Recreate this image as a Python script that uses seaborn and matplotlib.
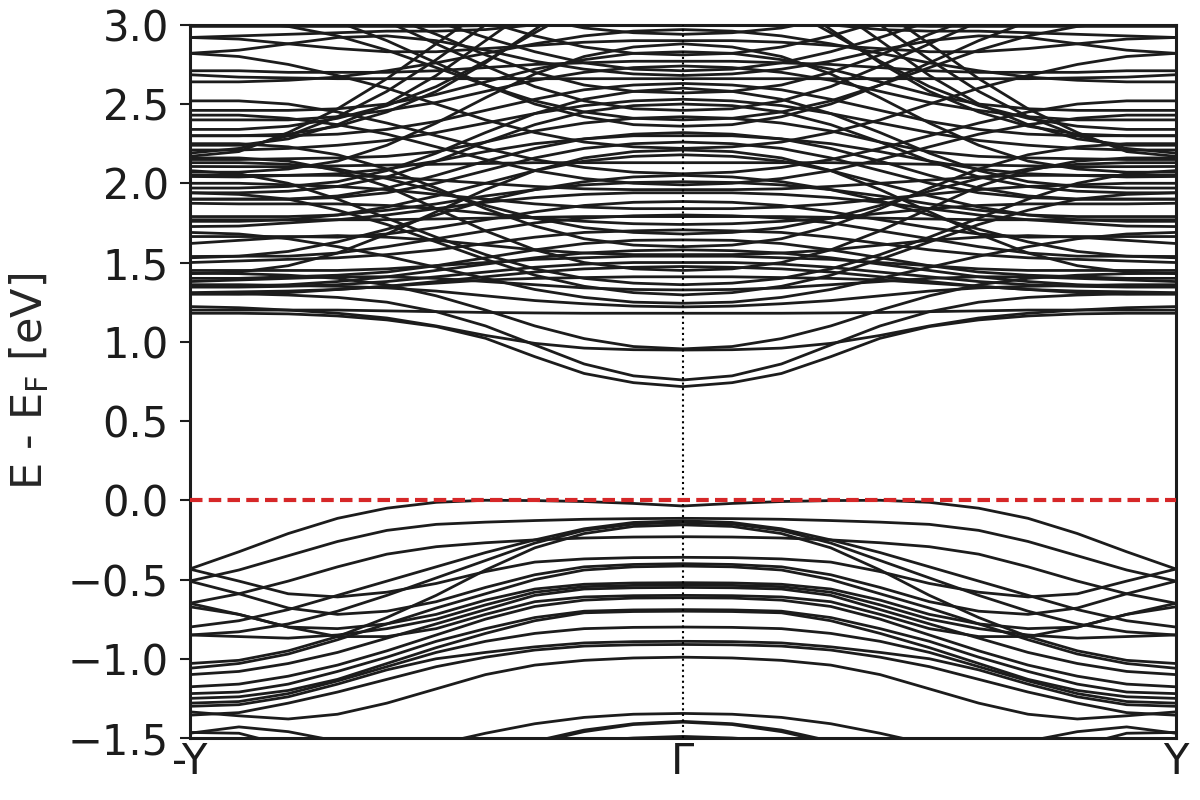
import numpy as np
import pandas as pd
import matplotlib
matplotlib.use("Agg")
import matplotlib.pyplot as plt
import seaborn as sns

# k positions (Gamma -> Y, fraction of path); bands are mirrored to -Y
k_half = [0.0, 0.1, 0.2, 0.3, 0.4, 0.5, 0.6, 0.7, 0.8, 0.9, 1.0]
tick_pos = [-1.0, 0.0, 1.0]
tick_labels = ["-Y", "Γ", "Y"]
y_ticks = [-1.5, -1.0, -0.5, 0.0, 0.5, 1.0, 1.5, 2.0, 2.5, 3.0]

# valence bands (eV), Gamma -> Y
valence = [
    [-0.036, -0.02, -0.008, -0.002, 0.0, -0.013, -0.05, -0.114, -0.21, -0.325, -0.434],
    [-0.114, -0.116, -0.12, -0.128, -0.138, -0.152, -0.19, -0.26, -0.35, -0.44, -0.51],
    [-0.13, -0.14, -0.18, -0.25, -0.33, -0.42, -0.51, -0.60, -0.69, -0.76, -0.80],
    [-0.14, -0.15, -0.19, -0.27, -0.38, -0.49, -0.60, -0.70, -0.78, -0.83, -0.85],
    [-0.155, -0.165, -0.21, -0.30, -0.44, -0.60, -0.74, -0.86, -0.95, -1.01, -1.03],
    [-0.23, -0.232, -0.238, -0.25, -0.268, -0.293, -0.34, -0.42, -0.51, -0.59, -0.65],
    [-0.36, -0.362, -0.37, -0.39, -0.45, -0.525, -0.58, -0.61, -0.59, -0.51, -0.434],
    [-0.40, -0.405, -0.42, -0.47, -0.55, -0.64, -0.70, -0.72, -0.68, -0.59, -0.51],
    [-0.415, -0.42, -0.44, -0.50, -0.59, -0.68, -0.78, -0.88, -0.97, -1.03, -1.06],
    [-0.52, -0.522, -0.53, -0.56, -0.63, -0.72, -0.78, -0.81, -0.80, -0.72, -0.65],
    [-0.535, -0.537, -0.545, -0.58, -0.66, -0.75, -0.81, -0.85, -0.87, -0.86, -0.85],
    [-0.55, -0.552, -0.56, -0.60, -0.69, -0.78, -0.87, -0.96, -1.03, -1.08, -1.10],
    [-0.60, -0.602, -0.61, -0.64, -0.72, -0.81, -0.86, -0.86, -0.80, -0.72, -0.672],
    [-0.615, -0.617, -0.63, -0.67, -0.75, -0.85, -0.95, -1.04, -1.11, -1.16, -1.177],
    [-0.69, -0.692, -0.70, -0.74, -0.81, -0.89, -0.99, -1.08, -1.16, -1.21, -1.22],
    [-0.70, -0.702, -0.71, -0.76, -0.84, -0.93, -1.03, -1.13, -1.20, -1.24, -1.25],
    [-0.80, -0.802, -0.81, -0.84, -0.89, -0.96, -1.05, -1.14, -1.22, -1.27, -1.28],
    [-0.89, -0.892, -0.90, -0.925, -0.96, -1.0, -1.07, -1.16, -1.24, -1.29, -1.30],
    [-0.91, -0.912, -0.92, -0.945, -0.99, -1.05, -1.13, -1.21, -1.28, -1.34, -1.356],
    [-0.99, -0.995, -1.01, -1.04, -1.10, -1.19, -1.28, -1.35, -1.38, -1.36, -1.335],
    [-1.345, -1.35, -1.37, -1.41, -1.47, -1.54, -1.62, -1.70, -1.76, -1.80, -1.82],
    [-1.395, -1.41, -1.45, -1.52, -1.60, -1.68, -1.75, -1.80, -1.84, -1.86, -1.87],
    [-1.40, -1.415, -1.46, -1.53, -1.61, -1.69, -1.76, -1.82, -1.86, -1.88, -1.89],
    [-1.49, -1.50, -1.52, -1.56, -1.62, -1.68, -1.72, -1.74, -1.75, -1.75, -1.75],
    [-2.0, -1.95, -1.90, -1.82, -1.72, -1.64, -1.57, -1.52, -1.46, -1.43, -1.47],
    [-2.1, -2.05, -1.98, -1.90, -1.82, -1.74, -1.67, -1.60, -1.55, -1.47, -1.465],
]

# conduction bands (eV), Gamma -> Y
conduction = [
    [0.717, 0.742, 0.80, 0.906, 1.022, 1.096, 1.138, 1.163, 1.176, 1.18, 1.18],
    [0.759, 0.785, 0.86, 0.98, 1.10, 1.19, 1.25, 1.28, 1.295, 1.303, 1.306],
    [0.948, 0.95, 0.96, 0.99, 1.04, 1.10, 1.15, 1.18, 1.20, 1.215, 1.222],
    [0.955, 0.97, 1.02, 1.10, 1.20, 1.29, 1.36, 1.40, 1.42, 1.43, 1.432],
    [1.18, 1.18, 1.18, 1.182, 1.185, 1.19, 1.195, 1.20, 1.20, 1.20, 1.20],
    [1.22, 1.225, 1.24, 1.26, 1.29, 1.32, 1.34, 1.35, 1.355, 1.36, 1.36],
    [1.243, 1.25, 1.28, 1.33, 1.40, 1.47, 1.54, 1.60, 1.65, 1.68, 1.69],
    [1.296, 1.31, 1.35, 1.42, 1.52, 1.63, 1.74, 1.83, 1.90, 1.93, 1.94],
    [1.327, 1.33, 1.34, 1.36, 1.38, 1.40, 1.41, 1.41, 1.40, 1.39, 1.38],
    [1.36, 1.37, 1.40, 1.46, 1.55, 1.66, 1.78, 1.90, 2.00, 2.06, 2.08],
    [1.41, 1.41, 1.405, 1.40, 1.39, 1.37, 1.35, 1.33, 1.31, 1.30, 1.30],
    [1.45, 1.46, 1.50, 1.58, 1.70, 1.84, 1.98, 2.08, 2.14, 2.16, 2.16],
    [1.475, 1.47, 1.46, 1.44, 1.41, 1.38, 1.35, 1.33, 1.32, 1.315, 1.31],
    [1.50, 1.50, 1.49, 1.47, 1.44, 1.41, 1.38, 1.36, 1.35, 1.345, 1.345],
    [1.54, 1.54, 1.53, 1.52, 1.50, 1.48, 1.46, 1.45, 1.45, 1.45, 1.45],
    [1.55, 1.55, 1.56, 1.58, 1.61, 1.64, 1.66, 1.67, 1.66, 1.64, 1.62],
    [1.58, 1.575, 1.56, 1.53, 1.49, 1.45, 1.41, 1.38, 1.36, 1.35, 1.35],
    [1.60, 1.61, 1.65, 1.73, 1.84, 1.97, 2.09, 2.18, 2.23, 2.25, 2.25],
    [1.643, 1.64, 1.62, 1.58, 1.53, 1.48, 1.44, 1.42, 1.41, 1.40, 1.40],
    [1.68, 1.69, 1.72, 1.78, 1.86, 1.95, 2.03, 2.09, 2.12, 2.13, 2.13],
    [1.706, 1.70, 1.69, 1.66, 1.62, 1.58, 1.55, 1.53, 1.52, 1.51, 1.50],
    [1.74, 1.745, 1.76, 1.78, 1.81, 1.84, 1.86, 1.87, 1.87, 1.87, 1.874],
    [1.79, 1.79, 1.79, 1.785, 1.78, 1.775, 1.77, 1.77, 1.77, 1.77, 1.77],
    [1.80, 1.795, 1.78, 1.75, 1.70, 1.65, 1.60, 1.56, 1.54, 1.54, 1.538],
    [1.84, 1.84, 1.85, 1.87, 1.90, 1.93, 1.96, 1.98, 1.99, 2.0, 2.0],
    [1.885, 1.88, 1.86, 1.82, 1.77, 1.72, 1.68, 1.66, 1.664, 1.664, 1.664],
    [1.94, 1.94, 1.93, 1.91, 1.88, 1.84, 1.80, 1.77, 1.75, 1.73, 1.727],
    [1.96, 1.96, 1.965, 1.98, 2.0, 2.02, 2.04, 2.05, 2.05, 2.04, 2.043],
    [1.99, 2.0, 2.03, 2.08, 2.15, 2.23, 2.31, 2.37, 2.41, 2.43, 2.43],
    [2.01, 2.005, 1.99, 1.96, 1.92, 1.87, 1.83, 1.80, 1.79, 1.79, 1.79],
    [2.05, 2.04, 2.01, 1.96, 1.89, 1.80, 1.71, 1.63, 1.57, 1.54, 1.53],
    [2.06, 2.07, 2.10, 2.15, 2.22, 2.30, 2.38, 2.45, 2.50, 2.52, 2.52],
    [2.13, 2.13, 2.13, 2.13, 2.125, 2.12, 2.115, 2.11, 2.105, 2.105, 2.106],
    [2.18, 2.17, 2.14, 2.08, 2.00, 1.92, 1.85, 1.80, 1.77, 1.76, 1.76],
    [2.21, 2.20, 2.16, 2.08, 1.96, 1.82, 1.68, 1.56, 1.48, 1.44, 1.43],
    [2.22, 2.23, 2.26, 2.32, 2.40, 2.50, 2.60, 2.68, 2.75, 2.80, 2.82],
    [2.26, 2.25, 2.22, 2.16, 2.08, 2.00, 1.94, 1.91, 1.90, 1.90, 1.90],
    [2.30, 2.30, 2.28, 2.25, 2.20, 2.14, 2.09, 2.06, 2.05, 2.05, 2.05],
    [2.32, 2.31, 2.28, 2.22, 2.14, 2.05, 1.97, 1.92, 1.90, 1.90, 1.90],
    [2.36, 2.37, 2.42, 2.50, 2.62, 2.76, 2.90, 3.02, 3.12, 3.18, 3.20],
    [2.40, 2.41, 2.45, 2.52, 2.62, 2.73, 2.84, 2.93, 2.99, 3.02, 3.03],
    [2.42, 2.41, 2.38, 2.33, 2.26, 2.20, 2.17, 2.16, 2.155, 2.15, 2.15],
    [2.46, 2.47, 2.52, 2.61, 2.74, 2.88, 3.02, 3.14, 3.22, 3.27, 3.28],
    [2.50, 2.49, 2.45, 2.37, 2.26, 2.14, 2.04, 1.98, 1.95, 1.94, 1.94],
    [2.53, 2.52, 2.49, 2.44, 2.38, 2.32, 2.27, 2.24, 2.22, 2.21, 2.21],
    [2.57, 2.58, 2.62, 2.70, 2.81, 2.94, 3.06, 3.16, 3.22, 3.26, 3.27],
    [2.60, 2.58, 2.53, 2.44, 2.32, 2.19, 2.08, 2.01, 1.98, 1.97, 1.97],
    [2.63, 2.62, 2.59, 2.53, 2.46, 2.39, 2.34, 2.31, 2.30, 2.30, 2.30],
    [2.66, 2.66, 2.66, 2.66, 2.66, 2.66, 2.66, 2.66, 2.665, 2.67, 2.685],
    [2.68, 2.69, 2.72, 2.77, 2.84, 2.90, 2.93, 2.92, 2.88, 2.84, 2.82],
    [2.71, 2.72, 2.76, 2.83, 2.92, 3.02, 3.10, 3.16, 3.20, 3.22, 3.22],
    [2.74, 2.73, 2.70, 2.65, 2.58, 2.51, 2.46, 2.42, 2.40, 2.40, 2.40],
    [2.77, 2.77, 2.76, 2.75, 2.73, 2.71, 2.70, 2.70, 2.70, 2.71, 2.71],
    [2.81, 2.82, 2.86, 2.93, 3.02, 3.10, 3.16, 3.20, 3.22, 3.23, 3.23],
    [2.83, 2.82, 2.78, 2.72, 2.64, 2.56, 2.50, 2.47, 2.46, 2.46, 2.46],
    [2.88, 2.86, 2.80, 2.69, 2.54, 2.38, 2.24, 2.14, 2.09, 2.07, 2.07],
    [2.90, 2.90, 2.89, 2.87, 2.85, 2.83, 2.83, 2.85, 2.88, 2.91, 2.92],
    [2.94, 2.95, 2.98, 3.04, 3.12, 3.20, 3.27, 3.32, 3.35, 3.37, 3.37],
    [2.97, 2.96, 2.93, 2.88, 2.82, 2.76, 2.71, 2.67, 2.65, 2.64, 2.64],
    [3.05, 3.04, 3.02, 3.0, 2.995, 2.99, 2.99, 2.99, 2.99, 2.99, 2.99],
    [3.10, 3.08, 3.04, 3.00, 2.97, 2.96, 2.96, 2.95, 2.94, 2.93, 2.92],
    [3.30, 3.25, 3.12, 2.95, 2.77, 2.61, 2.49, 2.41, 2.36, 2.34, 2.34],
    [3.40, 3.34, 3.18, 2.97, 2.76, 2.58, 2.45, 2.36, 2.31, 2.30, 2.30],
    [3.50, 3.45, 3.32, 3.12, 2.90, 2.68, 2.50, 2.37, 2.28, 2.24, 2.24],
    [3.55, 3.50, 3.38, 3.20, 3.00, 2.78, 2.58, 2.42, 2.30, 2.22, 2.19],
    [3.60, 3.55, 3.45, 3.30, 3.10, 2.88, 2.66, 2.47, 2.32, 2.20, 2.17],
]

# long-form table: each band mirrored from Gamma to -Y
rows = []
for b, band in enumerate(valence + conduction):
    for kk, e in zip(k_half, band):
        rows.append((b, kk, e))
        if kk > 0:
            rows.append((b, -kk, e))
df = pd.DataFrame(rows, columns=["band", "k", "E"]).sort_values(["band", "k"])

sns.set_theme(style="ticks")
plt.rcParams["font.family"] = ["DejaVu Sans"]

fig = plt.figure(figsize=(12, 8), dpi=100)
ax = fig.add_axes([0.158, 0.0775, 0.822, 0.8915])

sns.lineplot(data=df, x="k", y="E", units="band", estimator=None,
             color="#1c1c1c", linewidth=2.0, sort=False, ax=ax, legend=False)

ax.axhline(0.0, color="#d62728", linestyle=(0, (3.0, 1.5)), linewidth=3.0, zorder=5)
ax.axvline(0.0, color="black", linestyle=":", linewidth=1.5, zorder=4)

ax.set_xlim(-1, 1)
ax.set_ylim(-1.5, 3.0)
ax.set_xticks(tick_pos)
ax.set_xticklabels(tick_labels)
ax.set_yticks(y_ticks)
ax.set_xlabel("")
ax.set_ylabel("E - E$_\\mathregular{F}$ [eV]", fontsize=31, labelpad=12)
ax.tick_params(axis="both", labelsize=30, colors="#1c1c1c", width=1.5, length=7, direction="out")
ax.tick_params(axis="y", pad=8)
ax.tick_params(axis="x", length=0, pad=2)
for s in ax.spines.values():
    s.set_linewidth(2.2)
    s.set_color("#1c1c1c")
    s.set_visible(True)

fig.savefig("out.png", dpi=100)
